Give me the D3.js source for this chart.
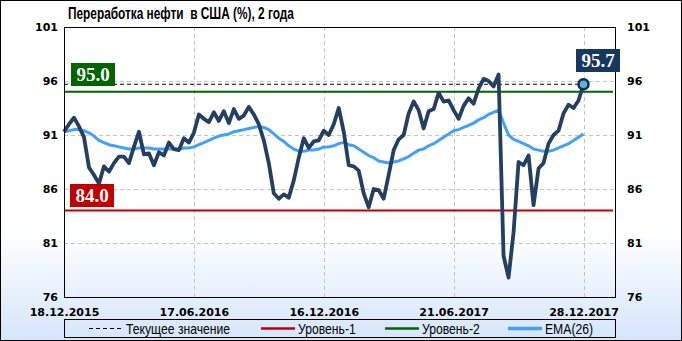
<!DOCTYPE html>
<html>
<head>
<meta charset="utf-8">
<script src="https://cdn.jsdelivr.net/npm/d3@7"></script>
<style>
  body { margin: 0; background: #fff; }
  .tick-lbl { font-family: "DejaVu Sans", Verdana, sans-serif; font-weight: bold; font-size: 11px; fill: #000; }
  .legend-txt { font-family: "Liberation Sans", Arial, sans-serif; font-size: 14px; fill: #000; }
  .badge { font-family: "Liberation Serif", "Times New Roman", serif; font-weight: bold; font-size: 19px; fill: #fff; }
</style>
</head>
<body>
<div id="chart"></div>
<script>
// weekly values, 18.12.2015 .. 28.12.2017
var refining = [91.3, 92.0, 92.6, 91.8, 90.8, 88.0, 87.3, 86.5, 88.1, 87.6,
  88.4, 89.0, 89.0, 88.4, 89.9, 91.3, 89.2, 89.3, 88.2, 89.4,
  89.1, 90.3, 89.7, 89.6, 90.7, 90.3, 91.2, 92.9, 92.5, 92.2,
  93.1, 92.3, 93.2, 92.1, 93.4, 92.5, 92.8, 93.6, 92.9, 92.0,
  90.5, 88.4, 85.6, 85.1, 85.5, 85.2, 86.8, 88.9, 90.7, 89.8,
  90.4, 90.5, 91.4, 91.0, 92.0, 93.5, 91.3, 88.2, 88.1, 87.7,
  85.6, 84.3, 86.0, 85.9, 85.1, 87.3, 89.6, 90.6, 91.0, 93.0,
  94.1, 93.3, 91.6, 93.2, 93.4, 94.9, 94.1, 94.2, 93.3, 92.5,
  93.7, 94.4, 93.9, 95.3, 96.2, 96.0, 95.5, 96.6, 79.8, 77.8,
  82.0, 88.5, 88.2, 89.1, 84.5, 87.9, 88.4, 90.2, 91.0, 91.4,
  93.0, 93.8, 93.5, 94.2, 95.7];

var ema26 = [91.3, 91.4, 91.5, 91.5, 91.4, 91.2, 90.9, 90.5, 90.3, 90.1,
  90.0, 89.9, 89.8, 89.7, 89.7, 89.8, 89.8, 89.8, 89.7, 89.7,
  89.7, 89.7, 89.7, 89.7, 89.8, 89.8, 89.9, 90.1, 90.3, 90.5,
  90.7, 90.9, 91.0, 91.1, 91.3, 91.4, 91.5, 91.6, 91.7, 91.8,
  91.7, 91.5, 91.1, 90.7, 90.4, 90.0, 89.7, 89.5, 89.5, 89.6,
  89.6, 89.7, 89.9, 89.9, 90.0, 90.2, 90.3, 90.1, 90.0, 89.7,
  89.4, 89.1, 88.9, 88.6, 88.5, 88.4, 88.5, 88.6, 88.8, 89.0,
  89.3, 89.6, 89.7, 90.0, 90.2, 90.5, 90.8, 91.1, 91.4, 91.5,
  91.7, 91.9, 92.1, 92.4, 92.6, 92.9, 93.1, 93.3, 92.1, 91.0,
  90.6, 90.4, 90.2, 90.0, 89.7, 89.6, 89.5, 89.5, 89.6, 89.8,
  90.0, 90.2, 90.5, 90.8, 91.1];

var dateLabels = ["18.12.2015", "17.06.2016", "16.12.2016", "21.06.2017", "28.12.2017"];
var dateIndex = [0, 26, 52, 78, 104];
var yTicks = [76, 81, 86, 91, 96, 101];

var level1 = 84.0;
var level2 = 95.0;
var current = 95.7;

var title = "Переработка нефти  в США (%), 2 года";
var legendNames = ["Текущее значение", "Уровень-1", "Уровень-2", "EMA(26)"];

var svgWidth = 682, svgHeight = 341;
var margin = {top: 27, right: 67, bottom: 44, left: 64};
var plotW = svgWidth - margin.left - margin.right;   // 551
var plotH = svgHeight - margin.top - margin.bottom;  // 270

var svg = d3.select("#chart").append("svg")
  .attr("width", svgWidth)
  .attr("height", svgHeight);

// background gradient, white fading to pale blue at the bottom
var defs = svg.append("defs");
var grad = defs.append("linearGradient").attr("id", "bg").attr("x1", 0).attr("y1", 0).attr("x2", 0).attr("y2", 1);
grad.append("stop").attr("offset", "0.68").attr("stop-color", "#ffffff");
grad.append("stop").attr("offset", "1").attr("stop-color", "#d5e5fa");

svg.append("rect").attr("x", 0.5).attr("y", 0.5)
  .attr("width", svgWidth - 1).attr("height", svgHeight - 1)
  .attr("fill", "url(#bg)").attr("stroke", "#000");

var x = d3.scaleLinear().domain([0, refining.length - 1]).range([margin.left, margin.left + 519.5]);
var y = d3.scaleLinear().domain([76, 101]).range([margin.top + plotH, margin.top]);

var g = svg.append("g");

// grid
g.selectAll(".hgrid").data(yTicks.filter(d => d > 76 && d < 101)).enter()
  .append("line")
  .attr("x1", margin.left).attr("x2", margin.left + plotW)
  .attr("y1", d => Math.round(y(d)) + 0.5).attr("y2", d => Math.round(y(d)) + 0.5)
  .attr("stroke", "#c4c4c4").attr("stroke-dasharray", "4,3");
g.selectAll(".vgrid").data(dateIndex.slice(1)).enter()
  .append("line")
  .attr("x1", d => Math.round(x(d)) + 0.5).attr("x2", d => Math.round(x(d)) + 0.5)
  .attr("y1", margin.top).attr("y2", margin.top + plotH)
  .attr("stroke", "#c4c4c4").attr("stroke-dasharray", "4,3");

// axes (left and right) - labels only
var leftAxis = d3.axisLeft(y).tickValues(yTicks).tickSize(0).tickPadding(6);
var rightAxis = d3.axisRight(y).tickValues(yTicks).tickSize(0).tickPadding(12);
var gl = g.append("g").attr("transform", `translate(${margin.left},0)`).call(leftAxis);
var gr = g.append("g").attr("transform", `translate(${margin.left + plotW},0)`).call(rightAxis);
var bottomAxis = d3.axisBottom(x).tickValues(dateIndex).tickFormat((d, i) => dateLabels[i]).tickSize(0).tickPadding(11);
var gb = g.append("g").attr("transform", `translate(0,${margin.top + plotH})`).call(bottomAxis);
[gl, gr, gb].forEach(function(a) {
  a.select(".domain").remove();
  a.selectAll("text").attr("class", "tick-lbl").attr("font-family", null).attr("font-size", null);
});

// level lines
g.append("line").attr("x1", margin.left).attr("x2", margin.left + plotW - 2)
  .attr("y1", y(level2)).attr("y2", y(level2))
  .attr("stroke", "#006400").attr("stroke-width", 2);
g.append("line").attr("x1", margin.left).attr("x2", margin.left + plotW - 2)
  .attr("y1", y(level1)).attr("y2", y(level1))
  .attr("stroke", "#c00000").attr("stroke-width", 2);
g.append("line").attr("x1", margin.left).attr("x2", x(refining.length - 1))
  .attr("y1", y(current)).attr("y2", y(current))
  .attr("stroke", "#000").attr("stroke-width", 1.2).attr("stroke-dasharray", "4,3");

// EMA and main series
var line = d3.line().x((d, i) => x(i)).y(d => y(d));
g.append("path").datum(ema26).attr("d", line)
  .attr("fill", "none").attr("stroke", "#42a1f7").attr("stroke-width", 3).attr("stroke-linejoin", "round");
g.append("path").datum(refining).attr("d", line)
  .attr("fill", "none").attr("stroke", "#243f60").attr("stroke-width", 3.8).attr("stroke-linejoin", "round");

// plot frame
g.append("rect").attr("x", margin.left + 0.5).attr("y", margin.top + 0.5)
  .attr("width", plotW).attr("height", plotH)
  .attr("fill", "none").attr("stroke", "#000");

// last point marker
g.append("circle").attr("cx", x(refining.length - 1)).attr("cy", y(current)).attr("r", 5)
  .attr("fill", "#5ab4d6").attr("stroke", "#0f2d57").attr("stroke-width", 2.5);

// value badges
function badge(bx, by, txt, color) {
  g.append("rect").attr("x", bx).attr("y", by).attr("width", 44).attr("height", 23).attr("fill", color);
  g.append("text").attr("class", "badge").attr("x", bx + 22).attr("y", by + 18)
    .attr("text-anchor", "middle").text(txt);
}
badge(71, 63, level2.toFixed(1), "#006400");
badge(70, 184, level1.toFixed(1), "#c00000");
badge(576, 49, current.toFixed(1), "#17375e");

// squeeze text to look like a condensed face
function condense(sel, k) {
  sel.each(function() {
    var w = this.getComputedTextLength();
    d3.select(this).attr("textLength", w * k).attr("lengthAdjust", "spacingAndGlyphs");
  });
}

// title
var titleText = svg.append("text").attr("x", 68).attr("y", 19)
  .attr("font-family", "'Liberation Sans', Arial, sans-serif")
  .attr("font-weight", "bold").attr("font-size", "16px")
  .attr("xml:space", "preserve")
  .text(title);
condense(titleText, 0.74);

// legend
var legend = svg.append("g");
legend.append("rect").attr("x", 64.5).attr("y", 319.5).attr("width", 551).attr("height", 18)
  .attr("fill", "none").attr("stroke", "#000");
var legX = [89, 261, 385, 508];
var legStyle = [
  {c: "#000", w: 1.2, dash: "4,3"},
  {c: "#c00000", w: 2.5, dash: null},
  {c: "#006400", w: 2.5, dash: null},
  {c: "#42a1f7", w: 3.5, dash: null}
];
legendNames.forEach(function(name, i) {
  legend.append("line").attr("x1", legX[i]).attr("x2", legX[i] + 34)
    .attr("y1", 328.5).attr("y2", 328.5)
    .attr("stroke", legStyle[i].c).attr("stroke-width", legStyle[i].w)
    .attr("stroke-dasharray", legStyle[i].dash);
  var t = legend.append("text").attr("class", "legend-txt")
    .attr("x", legX[i] + 37).attr("y", 333.5).text(name);
  condense(t, 0.87);
});
</script>
</body>
</html>
